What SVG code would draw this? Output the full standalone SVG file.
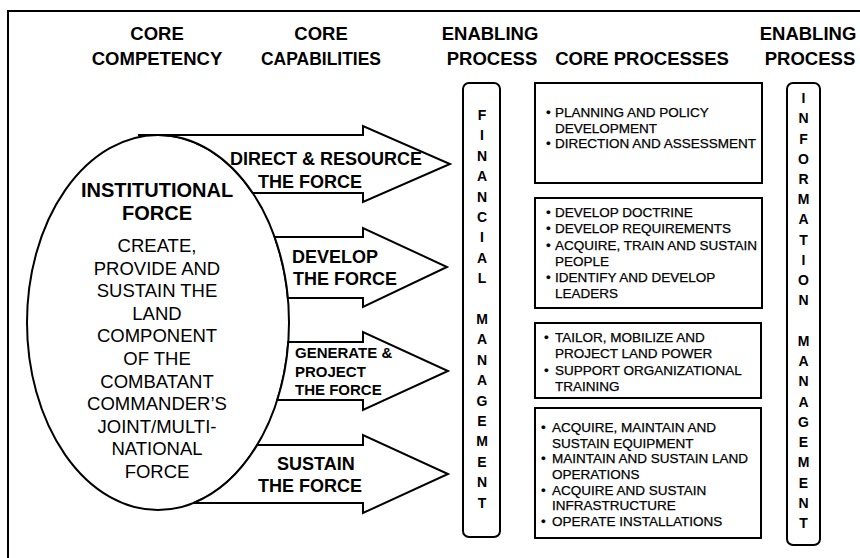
<svg xmlns="http://www.w3.org/2000/svg" width="860" height="558" viewBox="0 0 860 558">
<style>
.hd{font-family:"Liberation Sans",Arial,sans-serif;font-weight:bold;font-size:18.5px;fill:#000;text-anchor:middle}
.sh{fill:#fff;stroke:#000;stroke-width:2;stroke-linejoin:miter}
.al{font-family:"Liberation Sans",Arial,sans-serif;font-weight:bold;font-size:18px;fill:#000}
.als{font-family:"Liberation Sans",Arial,sans-serif;font-weight:bold;font-size:15px;fill:#000}
.eb{font-family:"Liberation Sans",Arial,sans-serif;font-weight:bold;font-size:20px;fill:#000;text-anchor:middle}
.er{font-family:"Liberation Sans",Arial,sans-serif;font-size:18.5px;fill:#000;text-anchor:middle}
.bt{font-family:"Liberation Sans",Arial,sans-serif;font-size:13.5px;fill:#000;stroke:#000;stroke-width:0.25}
.vl{font-family:"Liberation Sans",Arial,sans-serif;font-weight:bold;font-size:14px;fill:#000;text-anchor:middle}
</style>
<g id="frame" fill="none" stroke="#000" stroke-width="2">
<path d="M8 558 L8 11 L860 11"/>
</g>
<g id="headers">
<text class="hd" x="157" y="40">CORE</text>
<text class="hd" x="157" y="65">COMPETENCY</text>
<text class="hd" x="321" y="40">CORE</text>
<text class="hd" x="321" y="65" textLength="120" lengthAdjust="spacingAndGlyphs">CAPABILITIES</text>
<text class="hd" x="490" y="40">ENABLING</text>
<text class="hd" x="492" y="65">PROCESS</text>
<text class="hd" x="642" y="65">CORE PROCESSES</text>
<text class="hd" x="808" y="40">ENABLING</text>
<text class="hd" x="810" y="65">PROCESS</text>
</g>
<g id="institutional-force">
<ellipse class="sh" cx="158" cy="322.5" rx="131" ry="187.5"/>
<text class="eb" x="157" y="197">INSTITUTIONAL</text>
<text class="eb" x="157" y="220">FORCE</text>
<text class="er" x="157" y="252">CREATE,</text>
<text class="er" x="157" y="274.6">PROVIDE AND</text>
<text class="er" x="157" y="297.2">SUSTAIN THE</text>
<text class="er" x="157" y="319.8">LAND</text>
<text class="er" x="157" y="342.4">COMPONENT</text>
<text class="er" x="157" y="365">OF THE</text>
<text class="er" x="157" y="387.6">COMBATANT</text>
<text class="er" x="157" y="410.2">COMMANDER’S</text>
<text class="er" x="157" y="432.8">JOINT/MULTI-</text>
<text class="er" x="157" y="455.4">NATIONAL</text>
<text class="er" x="157" y="478">FORCE</text>
</g>
<g id="connectors"></g>
<g id="arrow-direct">
<path class="sh" d="M138 135 L363 135 L363 126 L450 164 L363 202 L363 193 L252.7 193 A131 187.5 0 0 0 158 135 Z"/>
<text class="al" x="230" y="165">DIRECT &amp; RESOURCE</text>
<text class="al" x="258" y="188">THE FORCE</text>
</g>
<g id="arrow-develop">
<path class="sh" d="M274.6 237 L363 237 L363 228 L447 267 L363 307 L363 298 L287.9 298 A131 187.5 0 0 0 274.6 237 Z"/>
<text class="al" x="292" y="263">DEVELOP</text>
<text class="al" x="293" y="285">THE FORCE</text>
</g>
<g id="arrow-generate">
<path class="sh" d="M288.3 342 L363 342 L363 332 L448 371 L363 410 L363 400 L277.3 400 A131 187.5 0 0 0 288.3 342 Z"/>
<text class="als" x="295" y="358">GENERATE &amp;</text>
<text class="als" x="295" y="377">PROJECT</text>
<text class="als" x="295" y="395">THE FORCE</text>
</g>
<g id="arrow-sustain">
<path class="sh" d="M257.2 445 L363 445 L363 435 L448 474 L363 513 L363 503 L193.5 503 A131 187.5 0 0 0 257.2 445 Z"/>
<text class="al" x="277" y="470">SUSTAIN</text>
<text class="al" x="258" y="492">THE FORCE</text>
</g>
<g id="financial-management">
<rect class="sh" x="463" y="83" width="37" height="454" rx="6"/>
<text class="vl"><tspan x="482" y="120">F</tspan><tspan x="482" y="140.4">I</tspan><tspan x="482" y="160.8">N</tspan><tspan x="482" y="181.2">A</tspan><tspan x="482" y="201.6">N</tspan><tspan x="482" y="222">C</tspan><tspan x="482" y="242.4">I</tspan><tspan x="482" y="262.8">A</tspan><tspan x="482" y="283.2">L</tspan><tspan x="482" y="324">M</tspan><tspan x="482" y="344.4">A</tspan><tspan x="482" y="364.8">N</tspan><tspan x="482" y="385.2">A</tspan><tspan x="482" y="405.6">G</tspan><tspan x="482" y="426">E</tspan><tspan x="482" y="446.4">M</tspan><tspan x="482" y="466.8">E</tspan><tspan x="482" y="487.2">N</tspan><tspan x="482" y="507.6">T</tspan></text>
</g>
<g id="information-management">
<rect class="sh" x="787" y="83" width="33" height="462" rx="6"/>
<text class="vl"><tspan x="803.5" y="103">I</tspan><tspan x="803.5" y="123.2">N</tspan><tspan x="803.5" y="143.5">F</tspan><tspan x="803.5" y="163.7">O</tspan><tspan x="803.5" y="184">R</tspan><tspan x="803.5" y="204.2">M</tspan><tspan x="803.5" y="224.4">A</tspan><tspan x="803.5" y="244.7">T</tspan><tspan x="803.5" y="264.9">I</tspan><tspan x="803.5" y="285.2">O</tspan><tspan x="803.5" y="305.4">N</tspan><tspan x="803.5" y="345.9">M</tspan><tspan x="803.5" y="366.1">A</tspan><tspan x="803.5" y="386.4">N</tspan><tspan x="803.5" y="406.6">A</tspan><tspan x="803.5" y="426.8">G</tspan><tspan x="803.5" y="447.1">E</tspan><tspan x="803.5" y="467.3">M</tspan><tspan x="803.5" y="487.6">E</tspan><tspan x="803.5" y="507.8">N</tspan><tspan x="803.5" y="528">T</tspan></text>
</g>
<g id="process-direct">
<rect class="sh" x="535" y="83" width="227" height="100"/>
<text class="bt"><tspan x="546" y="117">•</tspan><tspan x="546" y="148">•</tspan></text>
<text class="bt"><tspan x="555" y="117">PLANNING AND POLICY</tspan><tspan x="555" y="132.5">DEVELOPMENT</tspan><tspan x="555" y="148">DIRECTION AND ASSESSMENT</tspan></text>
</g>
<g id="process-develop">
<rect class="sh" x="535" y="198" width="227" height="110"/>
<text class="bt"><tspan x="546" y="217">•</tspan><tspan x="546" y="233.3">•</tspan><tspan x="546" y="249.6">•</tspan><tspan x="546" y="282.2">•</tspan></text>
<text class="bt"><tspan x="555" y="217">DEVELOP DOCTRINE</tspan><tspan x="555" y="233.3">DEVELOP REQUIREMENTS</tspan><tspan x="555" y="249.6">ACQUIRE, TRAIN AND SUSTAIN</tspan><tspan x="555" y="265.9">PEOPLE</tspan><tspan x="555" y="282.2">IDENTIFY AND DEVELOP</tspan><tspan x="555" y="298">LEADERS</tspan></text>
</g>
<g id="process-generate">
<rect class="sh" x="535" y="323" width="226" height="75"/>
<text class="bt"><tspan x="544" y="342">•</tspan><tspan x="544" y="375">•</tspan></text>
<text class="bt"><tspan x="555" y="342">TAILOR, MOBILIZE AND</tspan><tspan x="555" y="357.5">PROJECT LAND POWER</tspan><tspan x="555" y="375">SUPPORT ORGANIZATIONAL</tspan><tspan x="555" y="390.5">TRAINING</tspan></text>
</g>
<g id="process-sustain">
<rect class="sh" x="535" y="408" width="226" height="130"/>
<text class="bt"><tspan x="541" y="432">•</tspan><tspan x="541" y="463">•</tspan><tspan x="541" y="494.5">•</tspan><tspan x="541" y="526">•</tspan></text>
<text class="bt"><tspan x="552" y="432">ACQUIRE, MAINTAIN AND</tspan><tspan x="552" y="447.5">SUSTAIN EQUIPMENT</tspan><tspan x="552" y="463">MAINTAIN AND SUSTAIN LAND</tspan><tspan x="552" y="478.5">OPERATIONS</tspan><tspan x="552" y="494.5">ACQUIRE AND SUSTAIN</tspan><tspan x="552" y="510">INFRASTRUCTURE</tspan><tspan x="552" y="526">OPERATE INSTALLATIONS</tspan></text>
</g>
</svg>
